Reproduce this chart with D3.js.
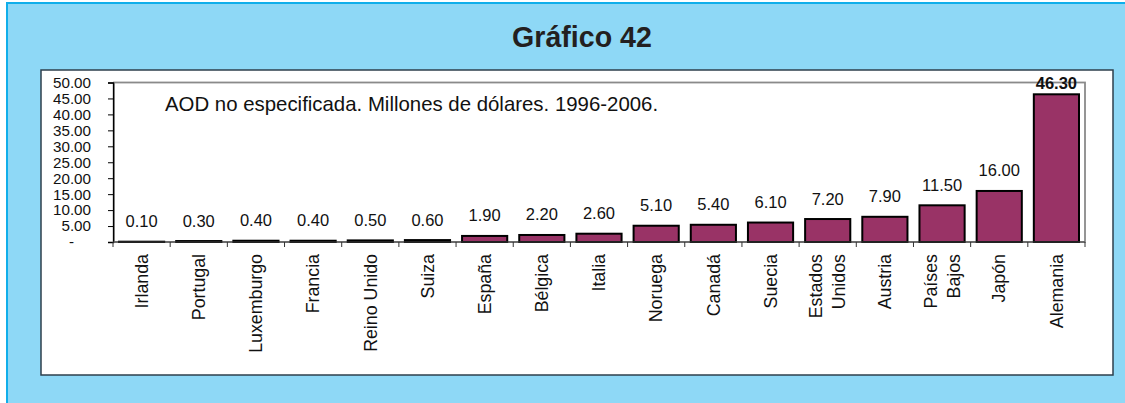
<!DOCTYPE html>
<html>
<head>
<meta charset="utf-8">
<script src="https://cdn.jsdelivr.net/npm/d3@7/dist/d3.min.js"></script>
<style>
  html, body { margin: 0; padding: 0; background: #ffffff; }
  svg { display: block; font-family: "Liberation Sans", Arial, sans-serif; }
</style>
</head>
<body>
<svg id="chart" width="1125" height="403"></svg>
<script>
// Unspecified ODA by donor country, millions of dollars, 1996-2006
const countries = ["Irlanda", "Portugal", "Luxemburgo", "Francia", "Reino Unido", "Suiza",
  "España", "Bélgica", "Italia", "Noruega", "Canadá", "Suecia", "Estados\nUnidos",
  "Austria", "Países\nBajos", "Japón", "Alemania"];
const values = [0.10, 0.30, 0.40, 0.40, 0.50, 0.60, 1.90, 2.20, 2.60, 5.10, 5.40, 6.10,
  7.20, 7.90, 11.50, 16.00, 46.30];
const yTickValues = [0, 5, 10, 15, 20, 25, 30, 35, 40, 45, 50];
const yTickLabels = ["-", "5.00", "10.00", "15.00", "20.00", "25.00", "30.00", "35.00",
  "40.00", "45.00", "50.00"];
const title = "Gráfico 42";
const subtitle = "AOD no especificada. Millones de dólares. 1996-2006.";

const svg = d3.select("#chart");

// Outer light-blue panel with a brighter blue edge
svg.append("rect")
  .attr("x", 7).attr("y", 3).attr("width", 1140).attr("height", 430)
  .attr("fill", "#8ed8f6").attr("stroke", "#10aeea").attr("stroke-width", 2);

svg.append("text")
  .attr("x", 582).attr("y", 47)
  .attr("text-anchor", "middle")
  .attr("font-size", 28.6).attr("font-weight", "bold")
  .attr("fill", "#231f20")
  .text(title);

// White chart box
svg.append("rect")
  .attr("x", 41).attr("y", 70).attr("width", 1072).attr("height", 305)
  .attr("fill", "#ffffff").attr("stroke", "#2e3f4c").attr("stroke-width", 1.5);

const plot = { left: 113, right: 1085, top: 82.5, bottom: 242 };

const x = d3.scaleBand()
  .domain(countries)
  .range([plot.left, plot.right])
  .paddingInner(0.21)
  .paddingOuter(0.105);

const y = d3.scaleLinear()
  .domain([0, 50])
  .range([plot.bottom, plot.top]);

// Plot-area frame
svg.append("rect")
  .attr("x", plot.left + 1).attr("y", plot.top)
  .attr("width", plot.right - plot.left - 1).attr("height", plot.bottom - plot.top)
  .attr("fill", "none").attr("stroke", "#8a8a8a").attr("stroke-width", 1.8);

svg.append("text")
  .attr("x", 165).attr("y", 111)
  .attr("font-size", 20.4).attr("fill", "#111")
  .text(subtitle);

// Bars
svg.append("g").selectAll("rect")
  .data(values)
  .join("rect")
  .attr("x", (d, i) => x(countries[i]))
  .attr("y", d => y(d))
  .attr("width", x.bandwidth())
  .attr("height", d => y(0) - y(d))
  .attr("fill", "#993366")
  .attr("stroke", "#000")
  .attr("stroke-width", 2);

// Value labels
const maxVal = d3.max(values);
svg.append("g").selectAll("text")
  .data(values)
  .join("text")
  .attr("x", (d, i) => x(countries[i]) + x.bandwidth() / 2)
  .attr("y", d => Math.max(y(d) - 14.5, plot.top + 6.5))
  .attr("text-anchor", "middle")
  .attr("font-size", 16.5)
  .attr("font-weight", d => d === maxVal ? "bold" : "normal")
  .attr("fill", "#111")
  .text(d => d3.format(".2f")(d));

// Y axis
const yAxis = svg.append("g")
  .attr("transform", `translate(${plot.left},0)`)
  .call(d3.axisLeft(y)
    .tickValues(yTickValues)
    .tickSize(5)
    .tickPadding(17)
    .tickFormat((d, i) => yTickLabels[i]));
yAxis.select(".domain").attr("stroke", "#000").attr("stroke-width", 1.3);
yAxis.selectAll(".tick line").attr("stroke", "#000");
yAxis.selectAll(".tick text")
  .attr("font-size", 15.2)
  .attr("font-family", "'Liberation Sans', Arial, sans-serif")
  .attr("fill", "#111")
  .attr("dx", d => d === 0 ? -17 : 0);

// X axis: baseline with ticks at category boundaries
const step = x.step();
const bounds = d3.range(countries.length + 1).map(i => plot.left + i * step);
const xAxis = svg.append("g");
xAxis.append("line")
  .attr("x1", plot.left).attr("x2", plot.right)
  .attr("y1", plot.bottom).attr("y2", plot.bottom)
  .attr("stroke", "#444").attr("stroke-width", 1.2);
xAxis.selectAll("line.tk")
  .data(bounds)
  .join("line")
  .attr("class", "tk")
  .attr("x1", d => d).attr("x2", d => d)
  .attr("y1", plot.bottom).attr("y2", plot.bottom + 5)
  .attr("stroke", "#333").attr("stroke-width", 1);

// Rotated category labels
const labelTop = 254;
const lbl = xAxis.selectAll("g.lbl")
  .data(countries)
  .join("g")
  .attr("class", "lbl");
lbl.each(function(name) {
  const lines = name.split("\n");
  const cx = x(name) + x.bandwidth() / 2;
  const gap = 23;
  lines.forEach((line, j) => {
    const off = (j - (lines.length - 1) / 2) * gap;
    d3.select(this).append("text")
      .attr("transform", `translate(${cx + off},${labelTop}) rotate(-90)`)
      .attr("text-anchor", "end")
      .attr("dy", "0.35em")
      .attr("font-size", 17.8)
      .attr("fill", "#111")
      .text(line);
  });
});
</script>
</body>
</html>
